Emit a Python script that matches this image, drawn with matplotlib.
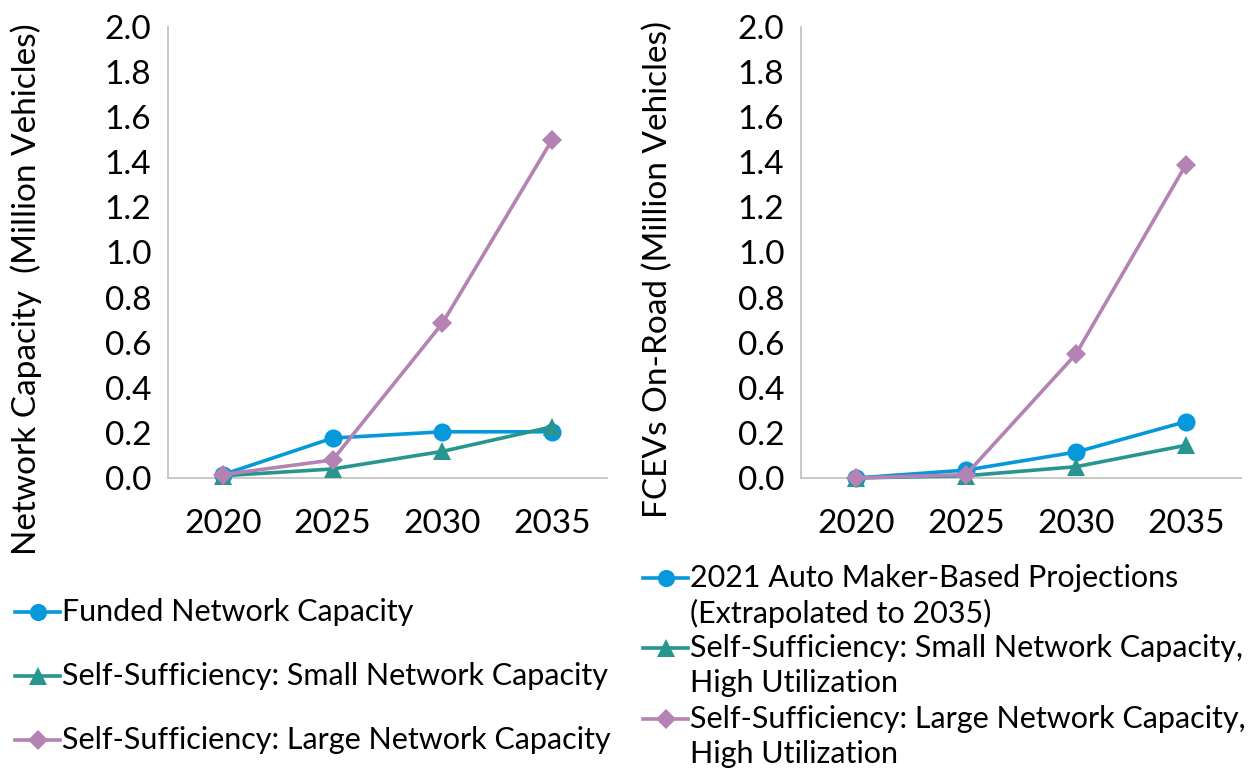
import matplotlib
matplotlib.use("Agg")
import matplotlib.pyplot as plt
from matplotlib.lines import Line2D

plt.rcParams['font.family'] = ['Lato', 'DejaVu Sans']

years = ["2020", "2025", "2030", "2035"]
y_ticks = [0.0, 0.2, 0.4, 0.6, 0.8, 1.0, 1.2, 1.4, 1.6, 1.8, 2.0]

# Left panel: network capacity scenarios (million vehicles)
funded_capacity = [0.015, 0.177, 0.205, 0.205]
small_capacity = [0.01, 0.04, 0.118, 0.227]
large_capacity = [0.015, 0.08, 0.686, 1.50]

# Right panel: FCEVs on road (million vehicles)
automaker_fcev = [0.0, 0.035, 0.115, 0.25]
small_fcev = [0.0, 0.01, 0.05, 0.145]
large_fcev = [0.0, 0.015, 0.55, 1.39]

left_labels = ["Funded Network Capacity",
               "Self-Sufficiency: Small Network Capacity",
               "Self-Sufficiency: Large Network Capacity"]
right_labels = ["2021 Auto Maker-Based Projections\n(Extrapolated to 2035)",
                "Self-Sufficiency: Small Network Capacity,\nHigh Utilization",
                "Self-Sufficiency: Large Network Capacity,\nHigh Utilization"]

BLUE = "#0598DA"
TEAL = "#28958F"
PURPLE = "#B483B4"
styles = [(BLUE, "o", 13), (TEAL, "^", 13), (PURPLE, "D", 10.5)]

W, H = 1255, 768
fig = plt.figure(figsize=(W / 100, H / 100), dpi=100)


def px_axes(x0, y0, x1, y1):
    return fig.add_axes([x0 / W, 1 - y1 / H, (x1 - x0) / W, (y1 - y0) / H])


def style_axes(ax):
    ax.set_xlim(-0.5, len(years) - 0.5)
    ax.set_ylim(0, 2.0)
    ax.set_xticks(range(len(years)))
    ax.set_xticklabels(years)
    ax.set_yticks(y_ticks)
    ax.set_yticklabels([f"{v:.1f}" for v in y_ticks])
    ax.tick_params(length=0, labelsize=24, colors="black")
    ax.tick_params(axis="x", pad=22)
    ax.tick_params(axis="y", pad=12)
    for s in ("top", "right"):
        ax.spines[s].set_visible(False)
    for s in ("left", "bottom"):
        ax.spines[s].set_color("#C4C4C4")
        ax.spines[s].set_linewidth(1.3)
    ax.patch.set_visible(False)


def draw_series(ax, series):
    x = range(len(years))
    for vals, (c, m, ms) in zip(series, styles):
        ax.plot(x, vals, color=c, marker=m, markersize=ms, linewidth=2.6,
                markeredgewidth=0, clip_on=False, zorder=3)


def legend_entry(x_handle, y, text, style, line_gap=35):
    c, m, ms = style
    fy = 1 - y / H
    fig.add_artist(Line2D([x_handle / W, (x_handle + 45) / W], [fy, fy],
                          color=c, linewidth=2.6, transform=fig.transFigure))
    fig.add_artist(Line2D([(x_handle + 22.5) / W], [fy], color=c, marker=m,
                          markersize=ms * 0.95, markeredgewidth=0,
                          transform=fig.transFigure))
    for i, line in enumerate(text.split("\n")):
        fig.text((x_handle + 47) / W, 1 - (y + i * line_gap) / H, line,
                 fontsize=22, va="center", ha="left")


ax1 = px_axes(168, 27, 607, 478)
style_axes(ax1)
draw_series(ax1, [funded_capacity, small_capacity, large_capacity])
fig.text(26 / W, 1 - 289 / H, "Network Capacity  (Million Vehicles)",
         rotation=90, fontsize=24, ha="center", va="center")

ax2 = px_axes(801, 27, 1241, 478)
style_axes(ax2)
draw_series(ax2, [automaker_fcev, small_fcev, large_fcev])
fig.text(658 / W, 1 - 270 / H, "FCEVs On-Road (Million Vehicles)",
         rotation=90, fontsize=24, ha="center", va="center")

for label, y, st in zip(left_labels, [612, 676, 740], styles):
    legend_entry(15, y, label, st)
for label, y, st in zip(right_labels, [578, 648, 719], styles):
    legend_entry(643, y, label, st)

fig.savefig("out.png", dpi=100)
